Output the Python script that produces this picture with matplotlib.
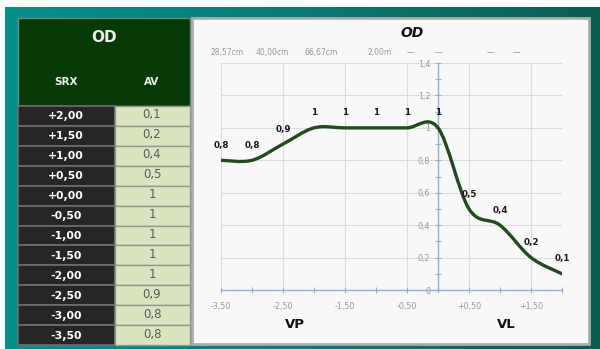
import numpy as np
import matplotlib
matplotlib.use("Agg")
import matplotlib.pyplot as plt
from matplotlib.path import Path
from matplotlib.patches import PathPatch, Rectangle
from matplotlib.colors import LinearSegmentedColormap
from matplotlib.ticker import MultipleLocator, FixedLocator, FuncFormatter

# ---------------- data ----------------
srx = [2.0, 1.5, 1.0, 0.5, 0.0, -0.5, -1.0, -1.5, -2.0, -2.5, -3.0, -3.5]
av = [0.1, 0.2, 0.4, 0.5, 1, 1, 1, 1, 1, 0.9, 0.8, 0.8]
dist_labels = ["28,57cm", "40,00cm", "66,67cm", "2,00m", "\u2014", "\u2014", "\u2014", "\u2014"]
x_major = [-3.5, -2.5, -1.5, -0.5, 0.5, 1.5]
y_major = [0, 0.2, 0.4, 0.6, 0.8, 1.0, 1.2, 1.4]
table_title = "OD"
col_headers = ["SRX", "AV"]
chart_title = "OD"
region_labels = ["VP", "VL"]


def fmt_srx(v):
    s = f"{abs(v):.2f}".replace(".", ",")
    return ("-" if v < 0 else "+") + s


def fmt_av(v):
    if float(v).is_integer():
        return str(int(v))
    return f"{v:g}".replace(".", ",")


# ---------------- figure ----------------
W, H = 600, 349
fig = plt.figure(figsize=(W / 100, H / 100), dpi=100)
fig.patch.set_facecolor("white")

bg = fig.add_axes([0, 0, 1, 1])
bg.set_xlim(0, W)
bg.set_ylim(H, 0)
bg.axis("off")

# teal gradient frame
cmap = LinearSegmentedColormap.from_list("tealfr", ["#07908f", "#0a7a74", "#0c5c51"])
grad = np.linspace(0, 1, 256)[None, :]
bg.imshow(grad, cmap=cmap, aspect="auto", extent=(5, W, H, 7), zorder=0)

# table header
bg.add_patch(Rectangle((18, 18), 172, 88, facecolor="#073a07", edgecolor="#6f8a6f", lw=1, zorder=1))
bg.text(104, 38, table_title, color="#e8efe8", fontsize=11, fontweight="bold",
        ha="center", va="center", family="DejaVu Sans", zorder=3)
bg.text(66, 82, col_headers[0], color="#e8efe8", fontsize=7.5, fontweight="bold",
        ha="center", va="center", family="DejaVu Sans", zorder=3)
bg.text(152, 82, col_headers[1], color="#e8efe8", fontsize=7.5, fontweight="bold",
        ha="center", va="center", family="DejaVu Sans", zorder=3)

# table rows
row_top = 106
row_h = (345 - 106) / len(srx)
for i, (s, a) in enumerate(zip(srx, av)):
    y0 = row_top + i * row_h
    bg.add_patch(Rectangle((18, y0), 97, row_h, facecolor="#262626",
                           edgecolor="#6e6e6e", lw=1.2, zorder=1))
    bg.add_patch(Rectangle((115, y0), 75, row_h, facecolor="#d9e5c0",
                           edgecolor="#8f9a86", lw=1.0, zorder=1))
    bg.text(66, y0 + row_h / 2 + 0.5, fmt_srx(s), color="white", fontsize=7.8,
            fontweight="bold", ha="center", va="center", family="DejaVu Sans", zorder=3)
    bg.text(152, y0 + row_h / 2 - 1, fmt_av(a), color="#5a5a5a", fontsize=8.5,
            ha="center", va="center", family="DejaVu Sans", zorder=3)

# chart panel
bg.add_patch(Rectangle((192, 18), 397, 326, facecolor="#f8f8f8",
                       edgecolor="#a8aea8", lw=2, zorder=1))

# ---------------- chart axes ----------------
left, right = 221 / W, 562 / W
bottom, top = 1 - 290 / H, 1 - 63 / H
ax = fig.add_axes([left, bottom, right - left, top - bottom])
ax.set_facecolor("none")

xs = np.array(srx[::-1], dtype=float)
ys = np.array(av[::-1], dtype=float)
P = np.column_stack([xs, ys])
Ppad = np.vstack([P[0], P, P[-1]])
T = (Ppad[2:] - Ppad[:-2]) / 2.0
verts = [P[0]]
codes = [Path.MOVETO]
for i in range(len(P) - 1):
    verts += [P[i] + T[i] / 3.0, P[i + 1] - T[i + 1] / 3.0, P[i + 1]]
    codes += [Path.CURVE4] * 3
ax.add_patch(PathPatch(Path(verts, codes), facecolor="none", edgecolor="#214a1f",
                       lw=2.4, capstyle="round", zorder=4))

for xv, yv in zip(xs, ys):
    ax.annotate(fmt_av(yv), (xv, yv), xytext=(0, 7.5), textcoords="offset points",
                ha="center", va="bottom", fontsize=6.3, fontweight="bold",
                color="#1a1a1a", family="DejaVu Sans", zorder=5)

ax.set_xlim(-3.5, 2.0)
ax.set_ylim(0, 1.4)

ax.spines["top"].set_visible(False)
ax.spines["right"].set_visible(False)
ax.spines["left"].set_position(("data", 0))
ax.spines["bottom"].set_position(("data", 0))
for sp in ("left", "bottom"):
    ax.spines[sp].set_color("#8fb0da")
    ax.spines[sp].set_linewidth(1.0)

ax.xaxis.set_major_locator(FixedLocator(x_major))
ax.xaxis.set_minor_locator(MultipleLocator(0.5))
ax.yaxis.set_major_locator(FixedLocator(y_major))
ax.yaxis.set_minor_locator(MultipleLocator(0.1))
ax.xaxis.set_major_formatter(FuncFormatter(lambda v, p: fmt_srx(v)))
ax.yaxis.set_major_formatter(FuncFormatter(lambda v, p: fmt_av(round(v, 1))))
ax.tick_params(axis="both", which="both", direction="inout", color="#8fb0da",
               labelcolor="#9a9a9a", labelsize=5.8)
ax.tick_params(axis="both", which="major", length=5, width=0.8)
ax.tick_params(axis="both", which="minor", length=4, width=0.8)
ax.tick_params(axis="x", which="major", pad=6)
ax.tick_params(axis="y", which="major", pad=3)

for v in y_major[1:]:
    ax.axhline(v, color="#dcdcdc", lw=0.8, zorder=0)
for v in x_major:
    ax.axvline(v, color="#dcdcdc", lw=0.8, zorder=0)

# top distance labels
dist_px = [227, 272, 321, 380, 410, 438, 490, 516]
for lab, px in zip(dist_labels, dist_px):
    fig.text(px / W, 1 - 53 / H, lab, fontsize=5.5, color="#999999",
             ha="center", va="center", family="DejaVu Sans")

fig.text(412 / W, 1 - 33 / H, chart_title, fontsize=10, fontweight="bold",
         fontstyle="italic", ha="center", va="center", color="#111111", family="DejaVu Sans")
fig.text(295 / W, 1 - 324 / H, region_labels[0], fontsize=9.5, fontweight="bold",
         ha="center", va="center", color="#111111", family="DejaVu Sans")
fig.text(506 / W, 1 - 324 / H, region_labels[1], fontsize=9.5, fontweight="bold",
         ha="center", va="center", color="#111111", family="DejaVu Sans")

fig.savefig("out.png", dpi=100)
